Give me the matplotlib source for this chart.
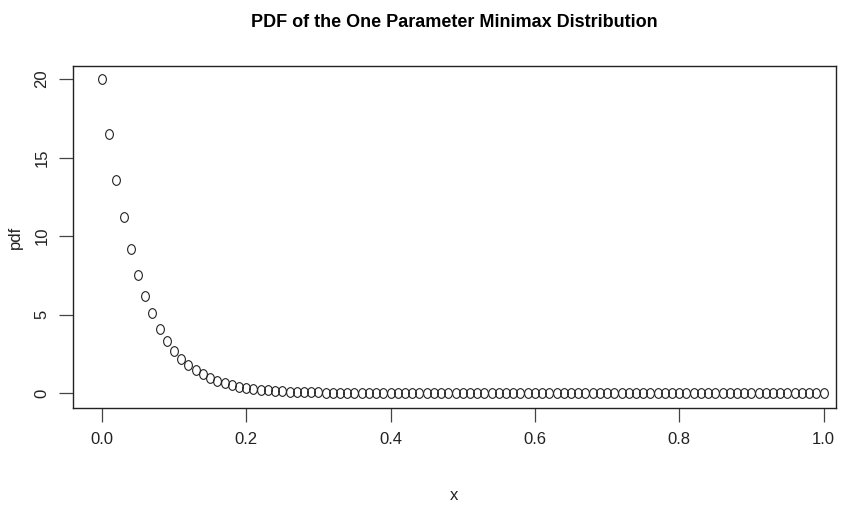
import numpy as np
import matplotlib.pyplot as plt
from matplotlib.path import Path
from matplotlib.transforms import Affine2D
from matplotlib import font_manager

# data
x_vals = [round(i * 0.01, 2) for i in range(101)]
pdf_head = [20.0, 16.5, 13.6, 11.2, 9.2, 7.5, 6.2, 5.1, 4.1, 3.3,
            2.7, 2.2, 1.8, 1.5, 1.2, 0.95, 0.78, 0.63, 0.51, 0.41,
            0.33, 0.27, 0.22, 0.18, 0.14, 0.11, 0.09, 0.07, 0.06, 0.05,
            0.04, 0.03, 0.03, 0.02, 0.02, 0.01, 0.01, 0.01, 0.01, 0.0]
pdf_tail = [0.0] * (101 - len(pdf_head))
pdf_vals = pdf_head + pdf_tail

x_ticks = [0.0, 0.2, 0.4, 0.6, 0.8, 1.0]
x_ticklabels = ["0.0", "0.2", "0.4", "0.6", "0.8", "1.0"]
y_ticks = [0, 5, 10, 15, 20]

names = {f.name for f in font_manager.fontManager.ttflist}
fam = "Liberation Sans Narrow" if "Liberation Sans Narrow" in names else "Liberation Sans"
plt.rcParams['font.family'] = [fam, 'DejaVu Sans']

# the reference looks squeezed sideways, so the circles are slightly tall ellipses
ellipse = Path.unit_circle().transformed(Affine2D().scale(0.8, 1.0))

fig = plt.figure(figsize=(8.46, 5.09), dpi=100)
ax = fig.add_axes([0.0863, 0.1984, 0.988 - 0.0863, 0.8703 - 0.1984])

ax.plot(x_vals, pdf_vals, linestyle='none', marker=ellipse, markersize=7,
        markerfacecolor='none', markeredgecolor='#222222', markeredgewidth=0.8)

ax.set_xlim(-0.04, 1.017)
ax.set_ylim(-0.95, 20.83)
ax.set_xticks(x_ticks)
ax.set_xticklabels(x_ticklabels)
ax.set_yticks(y_ticks)
ax.tick_params(axis='both', direction='out', length=10, width=0.9, color='#444444',
               labelsize=12, labelcolor='#222222', pad=7)
for lab in ax.get_yticklabels():
    lab.set_rotation(90)
    lab.set_va('center')
for s in ax.spines.values():
    s.set_linewidth(1.0)
    s.set_color('#222222')

ax.set_xlabel('x', fontsize=12, labelpad=30, color='#222222')
ax.set_ylabel('pdf', fontsize=12, labelpad=8, color='#222222')
fig.suptitle('PDF of the One Parameter Minimax Distribution', x=0.537, y=0.972,
             fontsize=13, fontweight='bold')

fig.savefig('out.png', dpi=100, facecolor='white')
